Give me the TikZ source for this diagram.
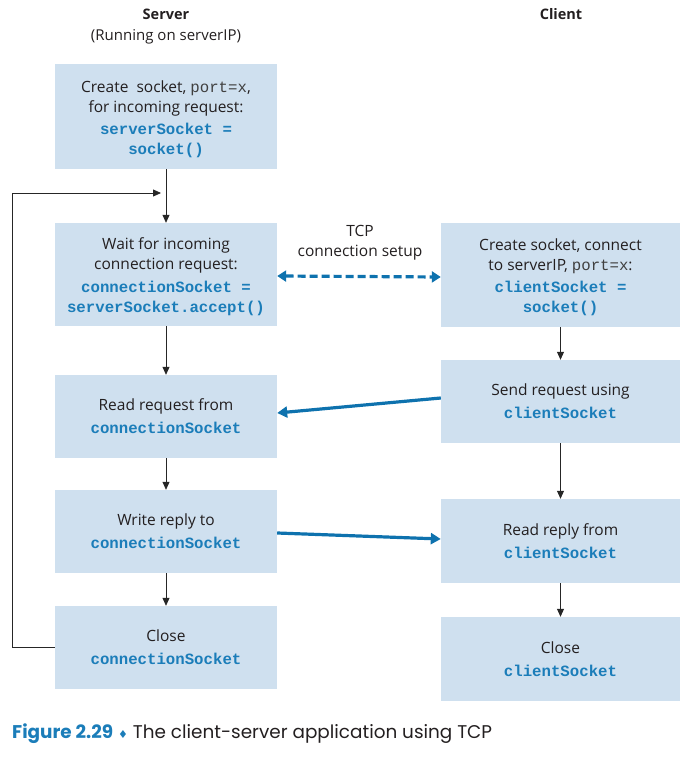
\documentclass[tikz,border=0pt]{standalone}
\usepackage{fontspec}
\setmainfont{Open Sans}
\newfontfamily\codefont{Liberation Mono}
\newfontfamily\capfont{Poppins}
\newfontfamily\symfont{DejaVu Sans}
\usetikzlibrary{arrows.meta}
\definecolor{boxfill}{HTML}{CFE0EF}
\definecolor{codeblue}{HTML}{1B7DB9}
\definecolor{arrblue}{HTML}{0E72AE}
\definecolor{txt}{HTML}{231F20}
\newcommand{\cd}[1]{{\fontsize{15.7}{20}\codefont\bfseries\color{codeblue}#1}}
\newcommand{\pcd}[1]{{\fontsize{15.7}{20}\codefont\color{darkgray}#1}}
\begin{document}
\begin{tikzpicture}[x=1pt,y=-1pt,
  box/.style={fill=boxfill,draw=none,inner sep=0pt,align=center,text=txt,
    font=\fontsize{15.5}{20}\selectfont},
  sbox/.style={box,minimum width=222pt},
  cbox/.style={box,minimum width=239pt},
  flow/.style={draw=black!85,line width=0.8pt,-{Triangle[length=8pt,width=7pt]}},
  msg/.style={draw=arrblue,line width=3.2pt,-{Triangle[length=10pt,width=11pt]}},
  title/.style={text=txt,font=\fontsize{15}{20}\selectfont,align=center}
]
\useasboundingbox (0,0) rectangle (687,757);

\node[title,font=\fontsize{14.5}{20}\selectfont\bfseries] (st) at (166,14) {Server};
\node[title] (sr) at (166,37) {(Running on serverIP)};
\node[title,font=\fontsize{14.5}{20}\selectfont\bfseries] (ct) at (561,14) {Client};

\node[sbox,minimum height=105pt] (B1) at (166,116.5) {};
\node[box,fill=none,anchor=center] (B1t) at ([yshift=-3pt]B1.center)
  {Create\ \ socket, \pcd{port=x},\\ for incoming request:\\[2pt] \cd{serverSocket =}\\ \cd{socket()}};
\node[sbox,minimum height=103pt] (B2) at (166,274.5) {};
\node[box,fill=none,anchor=center] (B2t) at ([yshift=-2.5pt]B2.center)
  {Wait for incoming\\ connection request:\\[3pt] \cd{connectionSocket =}\\ \cd{serverSocket.accept()}};
\node[sbox,minimum height=83pt] (B3) at (166,416.5)
  {Read request from\\[3pt] \cd{connectionSocket}};
\node[sbox,minimum height=83pt] (B4) at (166,531.5)
  {Write reply to\\[3pt] \cd{connectionSocket}};
\node[sbox,minimum height=83pt] (B5) at (166,647.5)
  {Close\\[3pt] \cd{connectionSocket}};

\node[cbox,minimum height=104pt] (C1) at (560.5,275) {};
\node[box,fill=none,anchor=center] (C1t) at ([yshift=-2.5pt]C1.center)
  {Create socket, connect\\ to serverIP, \pcd{port=x}:\\[2pt] \cd{clientSocket =}\\ \cd{socket()}};
\node[cbox,minimum height=83pt] (C2) at (560.5,401.5)
  {Send request using\\[3pt] \cd{clientSocket}};
\node[cbox,minimum height=84pt] (C3) at (560.5,541)
  {Read reply from\\[3pt] \cd{clientSocket}};
\node[cbox,minimum height=84pt] (C4) at (560.5,659)
  {Close\\[3pt] \cd{clientSocket}};

\node[title,font=\fontsize{15.5}{20}\selectfont] (tcp) at (360,243) {TCP\\connection setup};

\draw[flow] (B1) -- (B2);
\draw[flow] (B2) -- (B3);
\draw[flow] (B3) -- (B4);
\draw[flow] (B4) -- (B5);
\draw[flow] (C1) -- (C2);
\draw[flow] (C2) -- (C3);
\draw[flow] (C3) -- (C4);

\coordinate (lx) at (12,0);
\coordinate (loopend) at (161,193);
\draw[flow] (B5.west) -- (B5.west -| lx) |- (loopend);

\draw[draw=arrblue,line width=3.2pt,dash pattern=on 8pt off 4pt,
  {Triangle[length=9pt,width=11pt]}-{Triangle[length=9pt,width=11pt]}]
  ([yshift=-1.5pt]B2.east) -- ([yshift=-2pt]C1.west);
\draw[msg] ([yshift=3.5pt]C2.west) -- ([yshift=3.5pt]B3.east);
\draw[msg] ([yshift=-1.5pt]B4.east) -- ([yshift=2pt]C3.west);

\node[anchor=base west,inner sep=0pt,font=\fontsize{18.4}{20}\capfont] (cap) at (12,738)
  {\textcolor{codeblue}{\bfseries Figure 2.29} {\symfont\fontsize{11}{20}\selectfont\textcolor{codeblue}{♦}} \textcolor{txt}{The client-server application using TCP}};
\end{tikzpicture}
\end{document}
